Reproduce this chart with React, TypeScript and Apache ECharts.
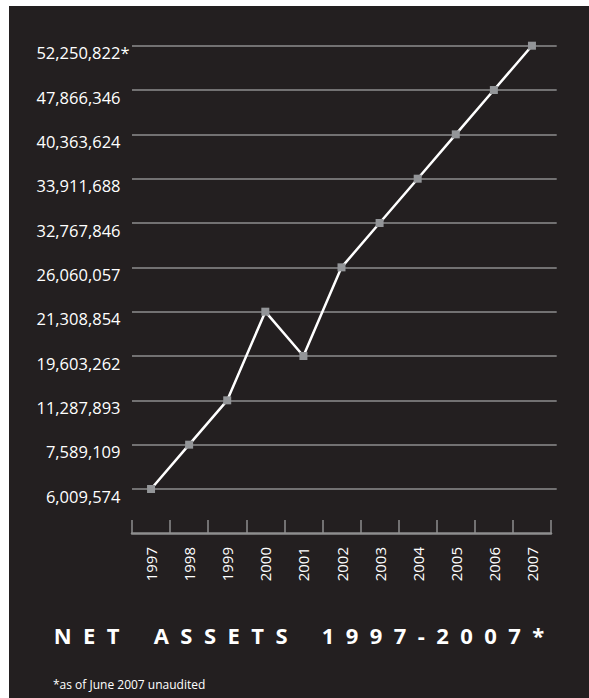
import React, { useEffect, useRef } from "react";
import * as echarts from "echarts";

const years = ["1997", "1998", "1999", "2000", "2001", "2002", "2003", "2004", "2005", "2006", "2007"];
const netAssets = [6009574, 7589109, 11287893, 21308854, 19603262, 26060057, 32767846, 33911688, 40363624, 47866346, 52250822];
const unauditedYear = "2007";
const titleText = "N  E  T      A  S  S  E  T  S      1  9  9  7  -  2  0  0  7  *";
const footnoteText = "*as of June 2007 unaudited";

const BG = "#231f20";
const GRAY = "#8e8e8e";
const MARK = "#939598";
const FONT = "'Open Sans', 'Noto Sans', sans-serif";

export default function App() {
  const ref = useRef<HTMLDivElement>(null);
  useEffect(() => {
    if (!ref.current) return;
    const chart = echarts.init(ref.current, undefined, { renderer: "svg" });
    const fmt = (v: number) => v.toLocaleString("en-US");
    const sorted = [...netAssets].sort((a, b) => a - b);
    const unauditedValue = netAssets[years.indexOf(unauditedYear)];
    const yLabels = sorted.map((v) => fmt(v) + (v === unauditedValue ? "*" : ""));
    const data = netAssets.map((v, i) => [i, sorted.indexOf(v)]);

    chart.setOption({
      animation: false,
      backgroundColor: BG,
      grid: [
        { left: 123, right: 38, top: 39.7, bottom: 209, containLabel: false },
        { left: 123, right: 32.3, top: 39.7, bottom: 209, containLabel: false },
      ],
      title: {
        text: titleText,
        left: "center",
        top: 613,
        textStyle: { color: "#ffffff", fontFamily: FONT, fontWeight: "bold", fontSize: 22 },
      },
      xAxis: [
        {
          type: "category",
          gridIndex: 0,
          data: years,
          boundaryGap: true,
          offset: 44,
          axisLine: { show: true, lineStyle: { color: GRAY, width: 2.5 } },
          axisTick: { show: true, inside: true, length: 13, interval: 0, lineStyle: { color: GRAY, width: 1.5 } },
          axisLabel: { rotate: 90, margin: 14, interval: 0, color: "#ffffff", fontSize: 15, fontFamily: FONT },
          splitLine: { show: false },
        },
        { type: "value", gridIndex: 1, show: false },
      ],
      yAxis: [
        {
          type: "category",
          gridIndex: 0,
          data: yLabels,
          boundaryGap: false,
          axisLine: { show: false },
          axisTick: { show: false },
          splitLine: { show: false },
          axisLabel: {
            interval: 0,
            margin: 2.5,
            color: "#ffffff",
            fontSize: 16.5,
            fontFamily: FONT,
            padding: [14, 0, 0, 0],
            formatter: (v: string) => (v.endsWith("*") ? v : `{p|${v}}`),
            rich: { p: { padding: [0, 9, 0, 0], color: "#ffffff", fontSize: 16.5, fontFamily: FONT } },
          },
        },
        {
          type: "category",
          gridIndex: 1,
          data: yLabels,
          boundaryGap: false,
          axisLine: { show: false },
          axisTick: { show: false },
          axisLabel: { show: false },
          splitLine: { show: true, interval: 0, lineStyle: { color: GRAY, width: 1.5 } },
        },
      ],
      series: [
        {
          type: "line",
          xAxisIndex: 0,
          yAxisIndex: 0,
          data,
          z: 5,
          symbol: "rect",
          symbolSize: 8,
          itemStyle: { color: MARK },
          lineStyle: { color: "#ffffff", width: 2.5 },
        },
      ],
      graphic: [
        {
          type: "text",
          left: 44,
          top: 672,
          style: { text: footnoteText, fill: "#ffffff", font: `12px ${FONT}` },
        },
      ],
    });
    return () => chart.dispose();
  }, []);
  return (
    <div
      ref={ref}
      style={{ position: "absolute", left: 9, top: 6, width: 580, height: 692 }}
    />
  );
}
